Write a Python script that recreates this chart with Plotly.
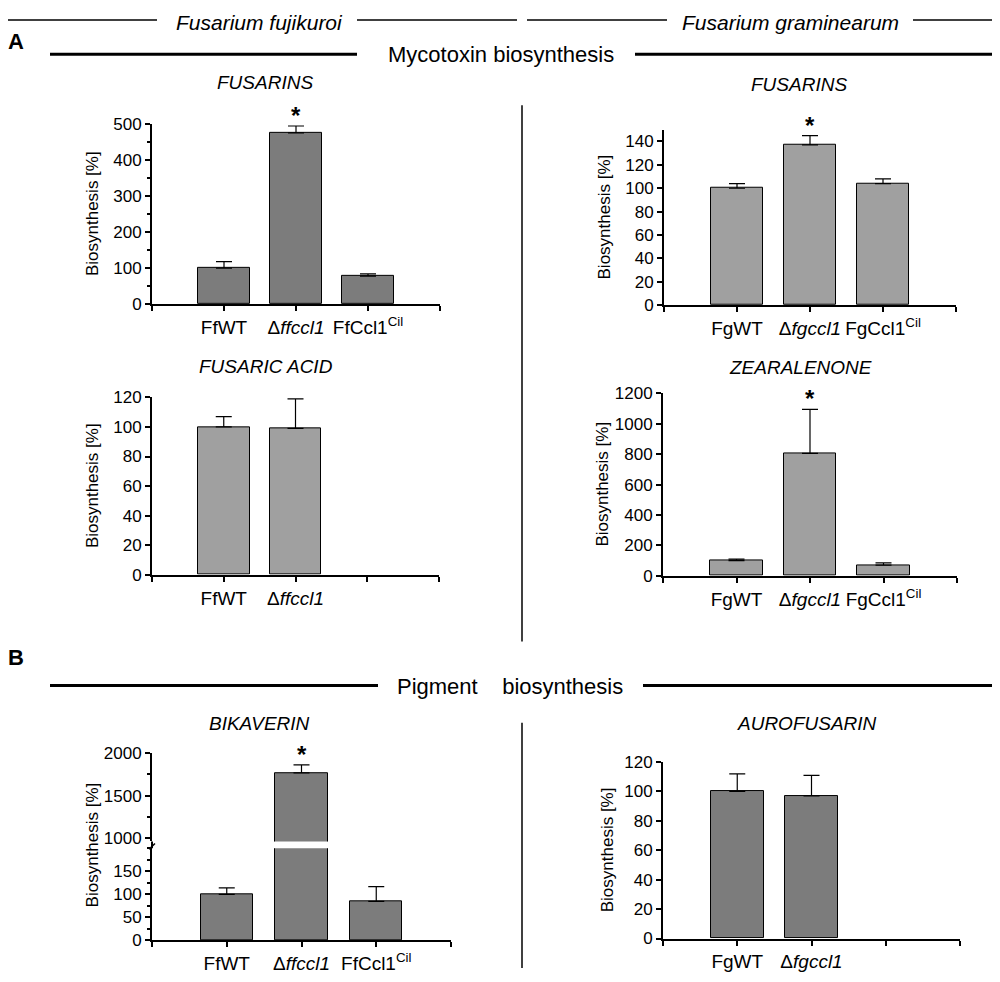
import plotly.graph_objects as go

# the page body keeps its default 8px margin, so the figure is made 16px
# smaller and every reference pixel is shifted by that margin
OX, OY = 8, 8
W, H = 984, 966

# categories
ff_labels = ["FfWT", "Δ<i>ffccl1</i>", "FfCcl1<sup>Cil</sup>"]
fg_labels = ["FgWT", "Δ<i>fgccl1</i>", "FgCcl1<sup>Cil</sup>"]
slots = [0, 1, 2]

# values (% of wild type) and upper error
ff_fusarins = [100, 475, 78]
ff_fusarins_err = [18, 19, 6]
ff_fusaric = [100, 99]
ff_fusaric_err = [7, 20]
fg_fusarins = [100, 137, 104]
fg_fusarins_err = [4, 8, 4]
fg_zea = [100, 805, 70]
fg_zea_err = [10, 290, 15]
ff_bikaverin = [100, 1770, 85]
ff_bikaverin_err = [14, 92, 32]
fg_aurofusarin = [100, 97]
fg_aurofusarin_err = [12, 14]

DARK = "#7c7c7c"
LIGHT = "#a0a0a0"
FONT = "Liberation Sans, Arial, sans-serif"


def px(x):
    return (x - OX) / W


def py(y):
    return 1 - (y - OY) / H


def ax(n, kind):
    return kind + ("" if n == 1 else str(n))


fig = go.Figure()
annotations = []
shapes = []


def text(x, y, s, size):
    annotations.append(dict(x=px(x), y=py(y), xref="paper", yref="paper",
                            xanchor="center", yanchor="middle",
                            text=s, showarrow=False,
                            font=dict(size=size, color="black", family=FONT)))


def add_panel(n, vals, err, labels, color, box, yrange, ytick, minor=None,
              title=None, title_xy=None, ytitle_x=None, stars=(), barw=0.72,
              show_x=True, ytitle_y=None):
    x0, x1, ytop, ybot = box
    fig.add_trace(go.Bar(
        x=slots[:len(vals)], y=vals, width=barw,
        marker=dict(color=color, line=dict(color="black", width=1)),
        error_y=dict(type="data", array=err, arrayminus=[0] * len(err),
                     symmetric=False, color="black", thickness=1.2, width=8),
        xaxis=ax(n, "x"), yaxis=ax(n, "y"), showlegend=False,
    ))
    nl = len(labels)
    # unlabelled tick marks (axis ends, empty slot) as minor ticks
    bare = [-1] + list(range(nl, 4))
    fig.layout[ax(n, "xaxis")] = dict(
        domain=[px(x0), px(x1)], range=[-1, 3], anchor=ax(n, "y"),
        tickvals=slots[:nl], ticktext=list(labels),
        ticks="outside", ticklen=5, tickwidth=2, tickcolor="black",
        minor=dict(tickvals=bare, ticks="outside", ticklen=5, tickwidth=2,
                   tickcolor="black", showgrid=False),
        showline=True, linecolor="black", linewidth=2,
        showgrid=False, zeroline=False, visible=show_x,
        tickfont=dict(size=19, color="black", family=FONT),
    )
    yax = dict(
        domain=[py(ybot), py(ytop)], range=yrange, anchor=ax(n, "x"),
        tickvals=ytick, ticks="outside", ticklen=5, tickwidth=2,
        tickcolor="black", showline=True, linecolor="black", linewidth=2,
        showgrid=False, zeroline=False,
        tickfont=dict(size=17, color="black", family=FONT),
    )
    if minor:
        yax["minor"] = dict(dtick=minor, ticks="outside", ticklen=3,
                            tickwidth=1.5, tickcolor="black", showgrid=False)
    fig.layout[ax(n, "yaxis")] = yax
    if title:
        text(title_xy[0], title_xy[1], "<i>" + title + "</i>", 19)
    if ytitle_x is not None:
        annotations.append(dict(
            x=px(ytitle_x), y=py(ytitle_y or (ytop + ybot) / 2),
            xref="paper", yref="paper", xanchor="center", yanchor="middle",
            text="Biosynthesis [%]", textangle=-90, showarrow=False,
            font=dict(size=17, color="black", family=FONT),
        ))
    for i in stars:
        annotations.append(dict(
            x=slots[i], y=vals[i] + err[i], xref=ax(n, "x"), yref=ax(n, "y"),
            xanchor="center", yanchor="bottom", yshift=-5,
            text="<b>*</b>", showarrow=False,
            font=dict(size=24, color="black", family=FONT),
        ))


# A: Fusarium fujikuroi
add_panel(1, ff_fusarins, ff_fusarins_err, ff_labels, DARK,
          (152, 440, 117, 301), [0, 500], [0, 100, 200, 300, 400, 500],
          minor=50, title="FUSARINS", title_xy=(265, 75), ytitle_x=92,
          stars=[1])
add_panel(2, ff_fusaric, ff_fusaric_err, ff_labels[:2], LIGHT,
          (152, 439, 396, 577), [0, 120], list(range(0, 121, 20)),
          title="FUSARIC ACID", title_xy=(266, 365), ytitle_x=92)
# A: Fusarium graminearum
add_panel(3, fg_fusarins, fg_fusarins_err, fg_labels, LIGHT,
          (664, 956, 123, 302), [0, 150], list(range(0, 141, 20)),
          title="FUSARINS", title_xy=(799, 77), ytitle_x=604, stars=[1])
add_panel(4, fg_zea, fg_zea_err, fg_labels, LIGHT,
          (663, 957, 392, 578), [0, 1200], list(range(0, 1201, 200)),
          title="ZEARALENONE", title_xy=(800, 366), ytitle_x=603, stars=[1])
# B: bikaverin with broken axis (bottom + top part)
add_panel(5, ff_bikaverin, ff_bikaverin_err, ff_labels, DARK,
          (152, 451, 856, 950), [0, 200], [0, 50, 100, 150], minor=25,
          title="BIKAVERIN", title_xy=(259, 729), ytitle_x=92, barw=0.7,
          ytitle_y=853)
add_panel(7, ff_bikaverin, ff_bikaverin_err, ff_labels, DARK,
          (152, 451, 759, 849), [962, 2000], [1000, 1500, 2000], minor=250,
          stars=[1], barw=0.7, show_x=False)
add_panel(6, fg_aurofusarin, fg_aurofusarin_err, fg_labels[:2], DARK,
          (663, 960, 768, 948), [0, 120], list(range(0, 121, 20)),
          title="AUROFUSARIN", title_xy=(807, 729), ytitle_x=607)


def hline(x0, x1, y, w):
    shapes.append(dict(type="line", xref="paper", yref="paper",
                       x0=px(x0), x1=px(x1), y0=py(y), y1=py(y),
                       line=dict(color="black", width=w)))


def vline(x, y0, y1, w):
    shapes.append(dict(type="line", xref="paper", yref="paper",
                       x0=px(x), x1=px(x), y0=py(y0), y1=py(y1),
                       line=dict(color="black", width=w)))


# species header
for a, b in [(0, 157), (357, 517), (527, 667), (913, 1000)]:
    hline(a, b, 11, 1.5)
# section bars
hline(50, 357, 46, 3)
hline(635, 1000, 46, 3)
hline(50, 378, 690, 3)
hline(643, 1000, 690, 3)
# dividers
vline(522, 98, 645, 1.5)
vline(522, 728, 978, 1.5)
# bikaverin axis through the break, with a small break mark
vline(152, 849, 856, 2)
shapes.append(dict(type="line", xref="paper", yref="paper",
                   x0=px(149), x1=px(155), y0=py(857), y1=py(851),
                   line=dict(color="black", width=1.5)))

text(259, 14, "<i>Fusarium fujikuroi</i>", 21)
text(790, 14, "<i>Fusarium graminearum</i>", 21)
text(501, 46, "Mycotoxin biosynthesis", 22)
text(510, 691, "Pigment\u00a0\u00a0\u00a0 biosynthesis", 22)
text(16, 33, "<b>A</b>", 22)
text(16, 661, "<b>B</b>", 22)

fig.update_layout(
    width=W, height=H, margin=dict(l=0, r=0, t=0, b=0),
    paper_bgcolor="white", plot_bgcolor="white",
    bargap=0, annotations=annotations, shapes=shapes,
    font=dict(family=FONT, color="black"),
)

fig.write_html("out.html")
